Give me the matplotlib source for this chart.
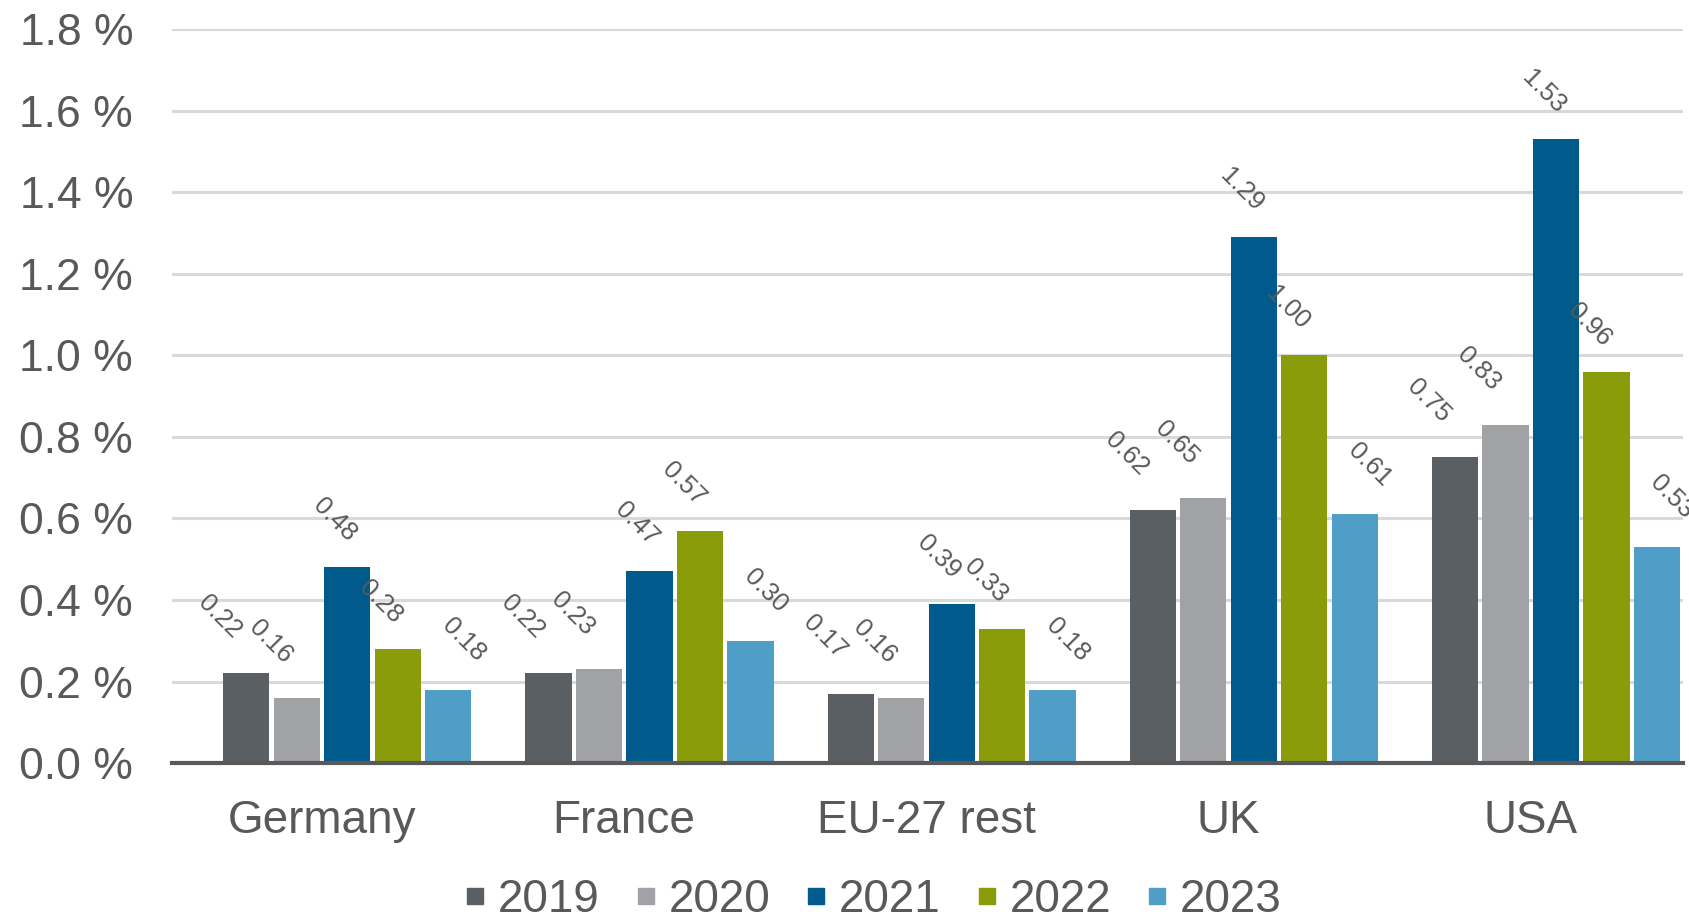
import matplotlib.pyplot as plt
from matplotlib.lines import Line2D
import numpy as np

plt.rcParams['font.family'] = ['Liberation Sans', 'DejaVu Sans']

countries = ['Germany', 'France', 'EU-27 rest', 'UK', 'USA']
years = ['2019', '2020', '2021', '2022', '2023']
v2019 = [0.22, 0.22, 0.17, 0.62, 0.75]
v2020 = [0.16, 0.23, 0.16, 0.65, 0.83]
v2021 = [0.48, 0.47, 0.39, 1.29, 1.53]
v2022 = [0.28, 0.57, 0.33, 1.00, 0.96]
v2023 = [0.18, 0.30, 0.18, 0.61, 0.53]
series = [v2019, v2020, v2021, v2022, v2023]

colors = ['#5a5f64', '#a0a2a5', '#005a8c', '#8b9c0a', '#4f9ec8']
txt = '#595959'

# label offsets (points) per series, rotated labels sit above the bar tops
lab_dx = [-19, -19, -9, -12, 11]
lab_dy = [41, 40, 34, 34, 36]

fig = plt.figure(figsize=(16.9, 9.23), dpi=100)
ax = fig.add_axes([0.1018, 0.1733, 0.894, 0.795])

x = np.arange(len(countries))
step = 0.167
width = 0.153
for i, vals in enumerate(series):
    pos = x + (i - 2) * step
    bars = ax.bar(pos, vals, width, color=colors[i], zorder=2)
    for b, v in zip(bars, vals):
        ax.annotate(f'{v:.2f}', (b.get_x() + b.get_width() / 2, v),
                    xytext=(lab_dx[i], lab_dy[i]), textcoords='offset points',
                    ha='center', va='center', rotation=-45,
                    fontsize=18.5, color=txt, zorder=3)

ax.set_xlim(-0.58, 4.42)
ax.set_ylim(0, 1.8)
yt = np.arange(0, 1.81, 0.2)
ax.set_yticks(yt)
ax.set_yticklabels([f'{t:.1f} %' for t in yt], fontsize=32, color=txt)
ax.set_xticks(x - 0.085)
ax.set_xticklabels(countries, fontsize=33, color=txt)
ax.tick_params(axis='y', length=0, pad=28)
ax.tick_params(axis='x', length=0, pad=26)
ax.grid(axis='y', color='#d9d9d9', linewidth=2.2, zorder=0)
ax.set_axisbelow(True)
for s in ['top', 'right', 'left']:
    ax.spines[s].set_visible(False)
ax.spines['bottom'].set_color('#595959')
ax.spines['bottom'].set_linewidth(3)
ax.spines['bottom'].set_zorder(4)

handles = [Line2D([], [], marker='s', linestyle='none', markersize=11,
                  markerfacecolor=c, markeredgecolor=c) for c in colors]
leg = fig.legend(handles, years, loc='center', bbox_to_anchor=(0.517, 0.025),
                 ncol=5, frameon=False, fontsize=33, handlelength=0.4,
                 handletextpad=0.3, columnspacing=0.8, borderpad=0)
for t in leg.get_texts():
    t.set_color(txt)

fig.savefig('out.png', dpi=100)
